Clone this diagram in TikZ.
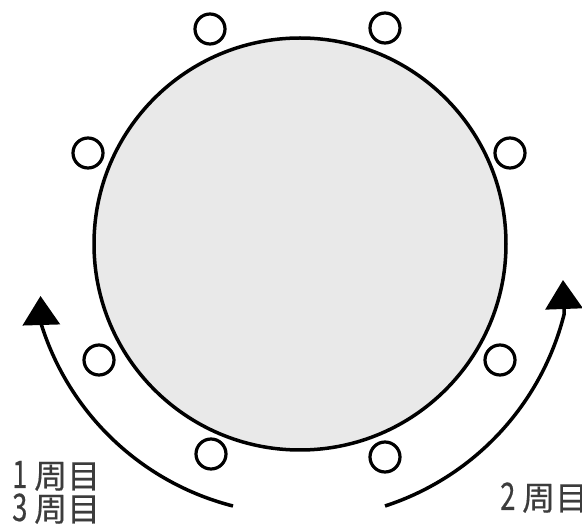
\documentclass[tikz,border=0pt]{standalone}
\usepackage{fontspec}
\usepackage{graphicx}
\usetikzlibrary{arrows.meta}
\newfontfamily\jp[FakeBold=0.4]{Noto Sans CJK JP}
\definecolor{disk}{RGB}{233,233,233}
\definecolor{txt}{RGB}{60,60,60}
\newcommand{\dg}[1]{\makebox[22pt][l]{\scalebox{0.72}[1]{\fontsize{38}{38}\selectfont #1}}}
\begin{document}
\begin{tikzpicture}[x=1pt,y=1pt,
  tablebox/.style={circle,draw=black,line width=3.5pt,fill=disk,minimum size=412pt,inner sep=0pt},
  seat/.style={circle,draw=black,line width=3.2pt,fill=white,minimum size=30pt,inner sep=0pt},
  turn/.style={line width=3.5pt,-{Triangle[width=37pt,length=29pt]}},
  lab/.style={font=\jp\fontsize{33}{33}\selectfont, text=txt, inner sep=0pt, anchor=base west, text height=26pt, text depth=2pt}]
\useasboundingbox (0,0) rectangle (582,525);
\node[tablebox] (T) at (300,281) {};
\node[seat] (s1) at (210,496) {};
\node[seat] (s2) at (385,497) {};
\node[seat] (s3) at (88,372) {};
\node[seat] (s4) at (510,372) {};
\node[seat] (s5) at (99,165) {};
\node[seat] (s6) at (500,165) {};
\node[seat] (s7) at (211,71) {};
\node[seat] (s8) at (385,68) {};
% arrows
\coordinate (a1) at (233,19);
\coordinate (t1) at (40.5,229);
\coordinate (a2) at (385,19);
\coordinate (t2) at (563,245);
\draw[turn] (a1) arc[start angle=255.7, end angle=197.4, radius=271pt] -- (t1);
\draw[turn] (a2) arc[start angle=-72, end angle=-14, radius=271pt] -- (t2);
% labels
\node[lab] (l1) at (12,37) {\dg{1}周目};
\node[lab] (l3) at (12,4) {\dg{3}周目};
\node[lab] (l2) at (500,15) {\dg{2}周目};
\end{tikzpicture}
\end{document}
